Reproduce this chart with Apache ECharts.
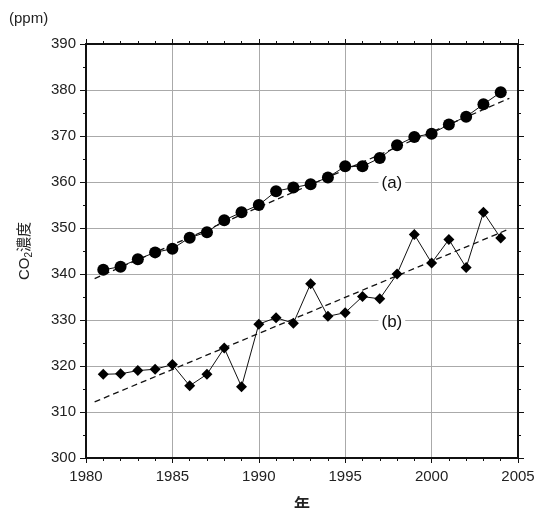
<!DOCTYPE html>
<html>
<head>
<meta charset="utf-8">
<script src="https://cdn.jsdelivr.net/npm/echarts@6/dist/echarts.min.js"></script>
<style>
  html, body { margin: 0; padding: 0; background: #fff; }
  #main { width: 541px; height: 508px; }
</style>
</head>
<body>
<div id="main"></div>
<script>
'use strict';

// 年
const years = [1981, 1982, 1983, 1984, 1985, 1986, 1987, 1988, 1989, 1990, 1991, 1992,
  1993, 1994, 1995, 1996, 1997, 1998, 1999, 2000, 2001, 2002, 2003, 2004];
// (a) 円マーカー
const co2A = [340.9, 341.6, 343.2, 344.7, 345.5, 347.9, 349.1, 351.7, 353.4, 355.0, 358.0, 358.8,
  359.5, 361.0, 363.4, 363.4, 365.2, 368.0, 369.8, 370.5, 372.5, 374.2, 376.9, 379.5];
// (b) ひし形マーカー
const co2B = [318.2, 318.3, 319.0, 319.3, 320.3, 315.7, 318.2, 323.9, 315.5, 329.1, 330.5, 329.3,
  337.9, 330.8, 331.6, 335.1, 334.6, 340.0, 348.6, 342.4, 347.5, 341.4, 353.4, 347.8];
// 回帰直線 (端点)
const trendYears = [1980.5, 2004.5];
const trendA = [339.0, 378.2];
const trendB = [312.2, 349.8];
// ラベル
const labelNames = ['(a)', '(b)'];
const labelPos = [[1997.7, 359.7], [1997.7, 329.4]];

const font = 'Liberation Sans, Arial, Helvetica, sans-serif';
const pairs = (xs, ys) => xs.map((x, i) => [x, ys[i]]);

const chart = echarts.init(document.getElementById('main'));
chart.setOption({
  animation: false,
  backgroundColor: '#fff',
  textStyle: { fontFamily: font },
  grid: { left: 86, right: 23, top: 44, bottom: 50, outerBoundsMode: 'none' },
  graphic: [{
    type: 'text', left: 9, top: 11,
    style: { text: '(ppm)', fontSize: 15, fontFamily: font, fill: '#222' }
  }],
  xAxis: [{
    type: 'value', min: 1980, max: 2005, interval: 5,
    name: '年', nameLocation: 'middle', nameGap: 38,
    nameTextStyle: { fontSize: 16, color: '#222', fontWeight: 'bold',
      fontFamily: 'Noto Sans CJK JP' },
    axisLine: { show: true, lineStyle: { color: '#111', width: 2 } },
    axisTick: { show: true, length: 5, lineStyle: { color: '#111' } },
    minorTick: { show: true, splitNumber: 5, length: 3, lineStyle: { color: '#111' } },
    axisLabel: { fontSize: 15, color: '#222', margin: 11, formatter: v => String(v) },
    splitLine: { show: true, lineStyle: { color: '#aaa', width: 1 } }
  }, {
    type: 'value', min: 1980, max: 2005, interval: 5, position: 'top',
    axisLine: { show: true, lineStyle: { color: '#111', width: 2 } },
    axisTick: { show: true, length: 5, lineStyle: { color: '#111' } },
    minorTick: { show: true, splitNumber: 5, length: 3, lineStyle: { color: '#111' } },
    axisLabel: { show: false },
    splitLine: { show: false }
  }],
  yAxis: [{
    type: 'value', min: 300, max: 390, interval: 10,
    name: '{t|CO}{s|2}{t|濃度}', nameLocation: 'middle', nameGap: 52, nameRotate: 90,
    nameTextStyle: {
      rich: {
        t: { fontSize: 15, color: '#222', fontFamily: 'Liberation Sans, Noto Sans CJK JP' },
        s: { fontSize: 10, color: '#222', verticalAlign: 'bottom', padding: [8, 0, 0, 0] }
      }
    },
    axisLine: { show: true, lineStyle: { color: '#111', width: 2 } },
    axisTick: { show: true, length: 6, lineStyle: { color: '#111' } },
    minorTick: { show: true, splitNumber: 2, length: 3, lineStyle: { color: '#111' } },
    axisLabel: { fontSize: 15, color: '#222', margin: 10 },
    splitLine: { show: true, lineStyle: { color: '#aaa', width: 1 } }
  }, {
    type: 'value', min: 300, max: 390, interval: 10, position: 'right',
    axisLine: { show: true, lineStyle: { color: '#111', width: 2 } },
    axisTick: { show: true, length: 6, lineStyle: { color: '#111' } },
    minorTick: { show: true, splitNumber: 2, length: 3, lineStyle: { color: '#111' } },
    axisLabel: { show: false },
    splitLine: { show: false }
  }],
  series: [{
    type: 'line', data: pairs(trendYears, trendA), symbol: 'none', z: 2,
    lineStyle: { color: '#111', width: 1.3, type: [6, 4] }
  }, {
    type: 'line', data: pairs(trendYears, trendB), symbol: 'none', z: 2,
    lineStyle: { color: '#111', width: 1.3, type: [6, 4] }
  }, {
    type: 'line', data: pairs(years, co2A), symbol: 'circle', symbolSize: 12, z: 3,
    itemStyle: { color: '#000' }, lineStyle: { color: '#111', width: 1 }
  }, {
    type: 'line', data: pairs(years, co2B), symbol: 'diamond', symbolSize: 11, z: 3,
    itemStyle: { color: '#000' }, lineStyle: { color: '#111', width: 1 }
  }, {
    type: 'scatter', symbolSize: 0, z: 4,
    itemStyle: { color: '#000', opacity: 1 },
    data: labelPos.map((p, i) => ({ value: p, name: labelNames[i] })),
    label: {
      show: true, position: 'inside', formatter: '{b}',
      fontSize: 17, color: '#111', backgroundColor: '#fff', padding: [0, 3]
    }
  }]
});
</script>
</body>
</html>
